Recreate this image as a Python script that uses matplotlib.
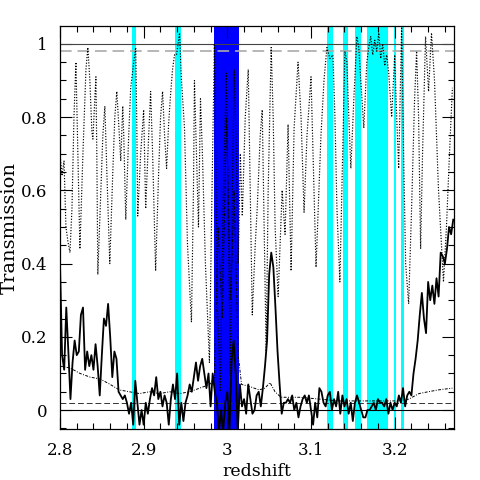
import numpy as np
import matplotlib
matplotlib.use("Agg")
import matplotlib.pyplot as plt
from matplotlib.ticker import MultipleLocator, FuncFormatter

plt.rcParams['font.family'] = ['DejaVu Serif']

# ---- data ----
blue_band = (2.9845, 3.0143)
cyan_bands = [(2.886, 2.891), (2.938, 2.945), (3.119, 3.1265), (3.1377, 3.1444),
              (3.1524, 3.1603), (3.1667, 3.1925), (3.1988, 3.202), (3.2075, 3.211)]

# dotted model transmission (vertices)
model_z = [2.8000, 2.8024, 2.8048, 2.8071, 2.8095, 2.8119, 2.8143, 2.8167, 2.8190, 2.8214,
           2.8238, 2.8274, 2.8310, 2.8333, 2.8357, 2.8381, 2.8393, 2.8417, 2.8429, 2.8440,
           2.8452, 2.8488, 2.8512, 2.8536, 2.8560, 2.8595, 2.8631, 2.8655, 2.8679, 2.8702,
           2.8726, 2.8750, 2.8762, 2.8786, 2.8821, 2.8845, 2.8881, 2.8905, 2.8917, 2.8929,
           2.8964, 2.9000, 2.9024, 2.9060, 2.9083, 2.9107, 2.9143, 2.9179, 2.9202, 2.9226,
           2.9250, 2.9274, 2.9298, 2.9321, 2.9345, 2.9369, 2.9393, 2.9429, 2.9452, 2.9488,
           2.9524, 2.9571, 2.9595, 2.9607, 2.9631, 2.9655, 2.9679, 2.9702, 2.9738, 2.9786,
           2.9810, 2.9845, 2.9881, 2.9917, 2.9952, 2.9988, 3.0012, 3.0036, 3.0060, 3.0083,
           3.0107, 3.0131, 3.0155, 3.0179, 3.0214, 3.0250, 3.0274, 3.0298, 3.0333, 3.0357,
           3.0393, 3.0417, 3.0440, 3.0464, 3.0488, 3.0524, 3.0548, 3.0571, 3.0607, 3.0655,
           3.0690, 3.0726, 3.0762, 3.0798, 3.0845, 3.0881, 3.0917, 3.0952, 3.1000, 3.1036,
           3.1060, 3.1095, 3.1119, 3.1155, 3.1190, 3.1226, 3.1262, 3.1286, 3.1310, 3.1345,
           3.1369, 3.1405, 3.1429, 3.1452, 3.1476, 3.1512, 3.1548, 3.1571, 3.1595, 3.1631,
           3.1667, 3.1690, 3.1714, 3.1738, 3.1762, 3.1786, 3.1810, 3.1833, 3.1857, 3.1881,
           3.1905, 3.1929, 3.1964, 3.2000, 3.2024, 3.2048, 3.2083, 3.2107, 3.2131, 3.2167,
           3.2202, 3.2238, 3.2262, 3.2286, 3.2310, 3.2333, 3.2369, 3.2405, 3.2440, 3.2476,
           3.2524, 3.2583, 3.2619, 3.2655, 3.2690]
model_T = [0.70, 0.64, 0.68, 0.50, 0.46, 0.43, 0.55, 0.80, 0.95, 0.70,
           0.44, 0.70, 0.93, 0.99, 0.90, 0.76, 0.74, 0.85, 0.91, 0.70,
           0.37, 0.60, 0.75, 0.83, 0.65, 0.40, 0.65, 0.80, 0.87, 0.78,
           0.68, 0.83, 0.75, 0.52, 0.75, 0.88, 0.95, 0.99, 0.80, 0.53,
           0.70, 0.82, 0.55, 0.75, 0.87, 0.70, 0.38, 0.65, 0.80, 0.87,
           0.75, 0.66, 0.78, 0.86, 0.93, 0.97, 0.97, 1.03, 0.90, 0.77,
           0.45, 0.24, 0.60, 0.90, 0.70, 0.50, 0.85, 0.70, 0.40, 0.13,
           0.50, 1.00, 0.30, 0.05, 0.60, 0.92, 0.50, 0.10, 0.60, 0.93,
           0.70, 0.40, 0.70, 0.53, 0.80, 0.93, 0.60, 0.26, 0.45, 0.55,
           0.75, 0.82, 0.50, 0.16, 0.60, 0.99, 0.80, 0.50, 0.31, 0.60,
           0.48, 0.78, 0.38, 0.77, 0.95, 0.80, 0.54, 0.75, 0.91, 0.60,
           0.39, 0.60, 0.75, 0.90, 0.99, 0.96, 0.97, 0.80, 0.55, 0.35,
           0.60, 0.98, 0.95, 0.80, 0.66, 0.85, 1.02, 0.99, 0.90, 0.77,
           0.95, 0.99, 1.02, 0.97, 1.01, 0.98, 1.03, 0.96, 1.00, 0.94,
           0.97, 0.92, 0.80, 0.97, 0.80, 0.66, 1.05, 0.70, 0.40, 0.29,
           0.55, 0.85, 0.98, 0.80, 0.44, 0.70, 1.02, 0.87, 1.03, 0.90,
           0.60, 0.35, 0.50, 0.70, 0.88]

# solid observed transmission, sampled every 0.0025 in redshift from 2.8
obs_z_start, obs_z_step = 2.8, 0.0025
obs_T = [0.40, 0.15, 0.11, 0.28, 0.16, 0.03, 0.13, 0.19, 0.15, 0.16,
         0.26, 0.28, 0.11, 0.16, 0.12, 0.15, 0.11, 0.18, 0.12, 0.04,
         0.15, 0.25, 0.23, 0.29, 0.20, 0.09, 0.16, 0.14, 0.05, 0.04,
         0.03, 0.04, 0.02, -0.01, 0.02, -0.04, 0.08, 0.02, -0.04, 0.00,
         -0.04, 0.02, -0.01, 0.03, 0.06, 0.04, 0.09, 0.03, 0.05, 0.01,
         0.04, 0.02, -0.04, 0.03, 0.07, 0.03, 0.10, -0.04, 0.02, -0.03,
         0.02, 0.04, 0.07, 0.05, 0.09, 0.13, 0.08, 0.12, 0.14, 0.10,
         0.06, 0.10, 0.01, 0.10, 0.05, 0.02, -0.06, 0.00, -0.06, 0.02,
         0.05, -0.06, 0.13, 0.19, 0.10, -0.06, 0.07, 0.01, 0.03, -0.01,
         0.07, 0.03, -0.01, 0.00, 0.04, 0.05, 0.01, 0.06, 0.12, 0.19,
         0.37, 0.43, 0.39, 0.28, 0.16, 0.07, -0.01, 0.02, 0.02, 0.03,
         0.02, 0.04, 0.00, 0.02, -0.02, 0.01, 0.03, 0.04, 0.02, 0.04,
         0.00, -0.04, 0.02, -0.02, 0.06, 0.05, 0.02, 0.01, 0.04, 0.05,
         0.00, 0.03, 0.01, 0.05, -0.01, 0.04, 0.01, 0.03, -0.01, 0.02,
         -0.03, 0.02, 0.04, 0.02, 0.00, -0.02, -0.02, 0.00, 0.00, 0.01,
         0.02, 0.00, 0.03, 0.02, 0.02, 0.01, 0.03, -0.01, 0.02, 0.00,
         0.02, 0.01, 0.04, 0.02, 0.06, 0.01, 0.04, 0.05, 0.04, 0.10,
         0.14, 0.19, 0.26, 0.32, 0.25, 0.21, 0.35, 0.30, 0.34, 0.29,
         0.36, 0.31, 0.43, 0.42, 0.40, 0.44, 0.50, 0.48, 0.52]

# dash-dot noise level
noise_z = [2.800, 2.812, 2.824, 2.836, 2.848, 2.860, 2.871, 2.883, 2.895, 2.907,
           2.919, 2.931, 2.943, 2.955, 2.967, 2.979, 2.9845, 2.989, 2.994, 2.999,
           3.004, 3.008, 3.013, 3.017, 3.026, 3.038, 3.045, 3.051, 3.057, 3.064,
           3.086, 3.110, 3.133, 3.157, 3.181, 3.205, 3.217, 3.229, 3.240, 3.252, 3.269]
noise_T = [0.12, 0.115, 0.10, 0.09, 0.085, 0.07, 0.055, 0.05, 0.045, 0.05,
           0.045, 0.05, 0.045, 0.05, 0.06, 0.07, 0.09, 0.50, 0.25, 0.80,
           0.30, 0.60, 0.15, 0.07, 0.065, 0.055, 0.06, 0.075, 0.05, 0.035,
           0.035, 0.03, 0.025, 0.025, 0.025, 0.025, 0.03, 0.045, 0.05, 0.055, 0.06]

hline_solid = [0.0, 1.0]
hline_dash_top = 0.98
hline_dash_bot = 0.02

# ---- plot ----
fig = plt.figure(figsize=(4.8, 4.8), dpi=100)
ax = fig.add_axes([0.125, 0.106, 0.821, 0.840])

ax.axvspan(*blue_band, color='#0000ff', lw=0, zorder=1)
for a, b in cyan_bands:
    ax.axvspan(a, b, color='#00ffff', lw=0, zorder=1)

ax.axhline(hline_solid[1], color='#444444', lw=0.8, zorder=2)
ax.axhline(hline_solid[0], color='black', lw=0.8, zorder=2)
ax.axhline(hline_dash_top, color='#aaaaaa', lw=1.2, dashes=(7, 3.5), zorder=2)
ax.axhline(hline_dash_bot, color='#333333', lw=0.7, dashes=(6, 3), zorder=2)

ax.plot(model_z, model_T, color='black', lw=0.85, dashes=(1, 1.4), zorder=3)
obs_z = obs_z_start + obs_z_step * np.arange(len(obs_T))
ax.plot(obs_z, obs_T, color='black', lw=1.3, zorder=4)
ax.plot(noise_z, noise_T, color='black', lw=0.7, dashes=(3, 1.5, 1, 1.5), zorder=3)

ax.set_xlim(2.8, 3.271)
ax.set_ylim(-0.052, 1.049)

ax.xaxis.set_major_locator(MultipleLocator(0.1))
ax.xaxis.set_minor_locator(MultipleLocator(0.02))
ax.yaxis.set_major_locator(MultipleLocator(0.2))
ax.yaxis.set_minor_locator(MultipleLocator(0.05))
fmt = FuncFormatter(lambda v, p: ('%g' % round(v, 3)))
ax.xaxis.set_major_formatter(fmt)
ax.yaxis.set_major_formatter(fmt)
ax.tick_params(which='both', direction='in', top=True, right=True, labelsize=12)
ax.tick_params(which='major', length=8.5, width=0.8)
ax.tick_params(which='minor', length=4.3, width=0.8)
ax.tick_params(axis='x', pad=9)
ax.tick_params(axis='y', pad=9)
for s in ax.spines.values():
    s.set_linewidth(0.9)

ax.set_xlabel('redshift', fontsize=12.5, labelpad=3)
ax.set_ylabel('Transmission', fontsize=14, labelpad=1.5)

fig.savefig('out.png', dpi=100)
